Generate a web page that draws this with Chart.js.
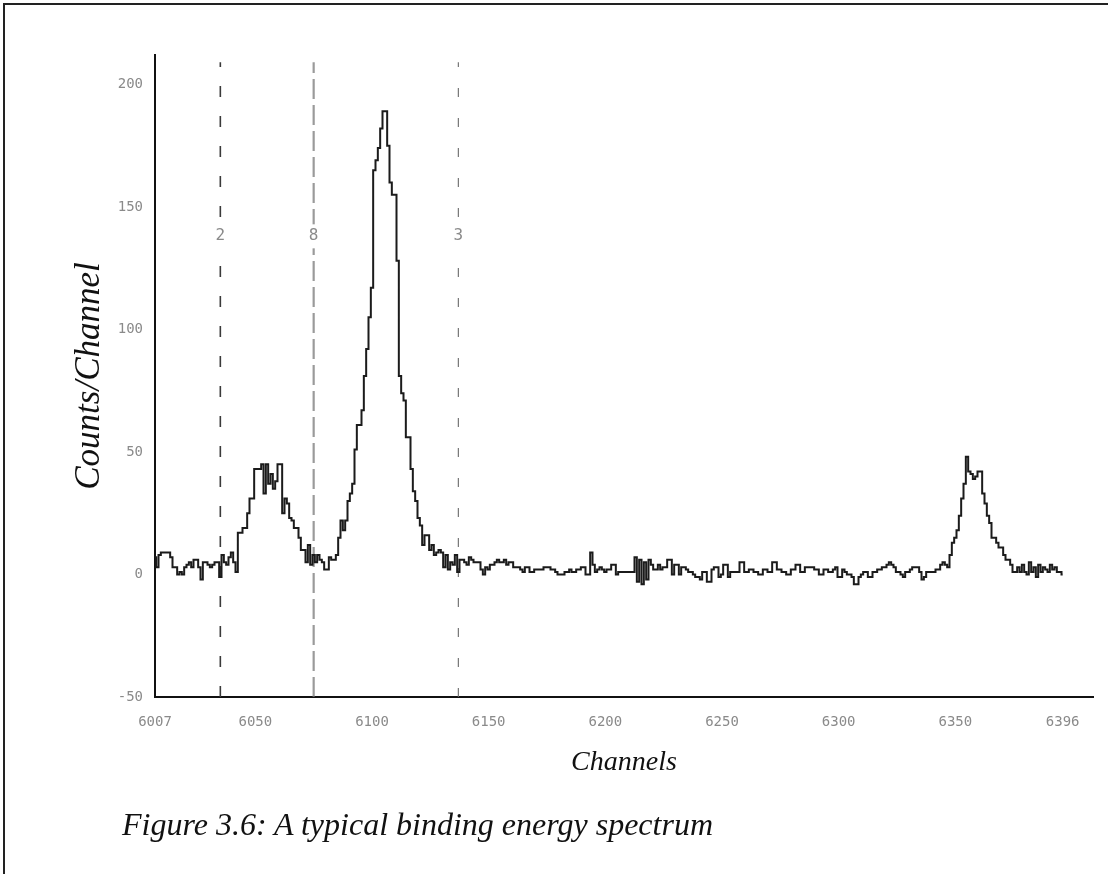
<!DOCTYPE html>
<html><head><meta charset="utf-8">
<script src="https://cdn.jsdelivr.net/npm/chart.js@4.4.1/dist/chart.umd.min.js"></script>
<style>
html,body{margin:0;padding:0;background:#fff;}
#wrap{position:relative;width:1108px;height:874px;overflow:hidden;background:#fff;}
#frame{position:absolute;left:3px;top:3px;width:1120px;height:900px;border-top:2px solid #222;border-left:2px solid #222;}
canvas{position:absolute;left:0;top:0;}
#caption{position:absolute;left:122px;top:804px;font-family:"Liberation Serif","DejaVu Serif",serif;font-style:italic;font-size:32px;line-height:40px;color:#111;white-space:nowrap;}
</style></head><body>
<div id="wrap"><div id="frame"></div><canvas id="c" width="1108" height="874"></canvas><div id="caption">Figure 3.6: A typical binding energy spectrum</div></div>
<script>
// ---- data ----
const firstChannel = 6007;
const counts = [
  // 6007-6042
  7,3,8,9,9,9,9,7,3,3,0,1,0,3,4,5,3,6,6,3,-2,5,5,4,3,4,5,5,-1,8,5,4,7,9,5,1,
  // 6043-6077
  17,17,19,19,25,31,31,43,43,43,45,33,45,37,41,35,38,45,45,25,31,29,23,22,19,19,15,10,10,5,12,4,8,5,8,
  // 6078-6104
  6,5,2,2,7,6,6,8,15,22,18,22,30,33,37,51,61,61,67,81,92,105,117,165,169,174,182,
  // 6105-6137
  189,189,175,160,155,155,128,81,74,71,56,56,43,34,30,23,20,12,16,16,10,12,8,9,10,9,3,8,2,5,4,8,1,
  // 6138-6333
  6,6,5,4,7,6,5,5,5,2,0,3,2,4,4,5,6,5,5,6,4,5,5,3,3,3,2,1,3,3,1,1,2,2,2,2,3,3,3,2,2,1,0,0,0,1,1,2,1,1,2,2,3,3,0,0,
  9,4,1,2,3,2,1,2,2,4,4,0,1,1,1,1,1,1,1,7,-3,6,-4,5,-2,6,4,2,2,4,2,3,3,6,6,0,4,4,0,3,3,2,1,1,0,-1,-1,-2,1,1,-3,-3,
  2,3,3,-1,0,4,4,-1,1,1,1,1,5,5,1,1,2,2,1,1,0,0,2,2,1,1,5,5,2,2,1,1,0,0,2,2,4,4,1,1,3,3,3,3,2,2,0,0,2,2,1,1,2,3,
  -1,-1,2,1,0,0,-1,-4,-4,-1,0,1,1,-1,-1,1,1,2,2,3,3,4,5,4,3,1,1,0,-1,1,1,2,3,3,
  // 6334-6347
  3,1,-2,-1,1,1,1,1,2,2,4,5,4,3,
  // 6348-6396
  8,13,15,18,24,31,37,48,42,41,39,40,42,42,33,29,24,21,15,15,13,11,11,8,6,6,4,1,1,3,1,4,1,0,5,1,3,-1,4,1,3,2,1,4,2,3,1,1,0
];
const xTickValues = [6007, 6050, 6100, 6150, 6200, 6250, 6300, 6350, 6396];
const xTickLabels = ['6007', '6050', '6100', '6150', '6200', '6250', '6300', '6350', '6396'];
const yTickValues = [-50, 0, 50, 100, 150, 200];
const markerChannels = [6035, 6075, 6137];
const markerLabels = ['2', '8', '3'];
const xMin = 6007, xMax = 6409, yMin = -50, yMax = 212;
const markerTop = 209, markerLabelValue = 138;

// ---- styles ----
const markerStyles = [
  {color: '#3a3a3a', width: 1.6, dash: [11, 19]},
  {color: 'rgba(120,120,120,0.75)', width: 2.2, dash: [20, 6]},
  {color: '#6a6a6a', width: 1.1, dash: [9, 21]}
];
const tickColor = '#8a8a8a';
const tickFont = {family: '"DejaVu Sans Mono", monospace', size: 14};

const datasets = [{
  label: 'Counts',
  data: counts.map((v, i) => ({x: firstChannel + i, y: v})),
  stepped: 'middle',
  borderColor: '#1b1b1b',
  borderWidth: 2,
  pointRadius: 0,
  fill: false
}];
markerChannels.forEach((ch, i) => {
  datasets.push({
    label: 'marker ' + markerLabels[i],
    data: [{x: ch, y: yMin}, {x: ch, y: markerTop}],
    borderColor: markerStyles[i].color,
    borderWidth: markerStyles[i].width,
    borderDash: markerStyles[i].dash,
    borderCapStyle: 'butt',
    pointRadius: 0,
    fill: false
  });
});

const markerLabelPlugin = {
  id: 'markerLabels',
  afterDatasetsDraw(chart) {
    const {ctx, scales: {x, y}} = chart;
    ctx.save();
    ctx.font = '16px "DejaVu Sans Mono", monospace';
    ctx.textAlign = 'center';
    ctx.textBaseline = 'middle';
    markerChannels.forEach((ch, i) => {
      const px = x.getPixelForValue(ch);
      const py = y.getPixelForValue(markerLabelValue);
      ctx.fillStyle = '#fff';
      ctx.fillRect(px - 8, py - 12, 16, 24);
      ctx.fillStyle = '#8a8a8a';
      ctx.fillText(markerLabels[i], px, py);
    });
    ctx.restore();
  }
};

new Chart(document.getElementById('c'), {
  type: 'line',
  data: {datasets},
  options: {
    responsive: false,
    animation: false,
    devicePixelRatio: 1,
    layout: {padding: {left: 69, top: 55, right: 15, bottom: 77}},
    plugins: {legend: {display: false}, tooltip: {enabled: false}},
    scales: {
      x: {
        type: 'linear',
        min: xMin, max: xMax,
        afterFit(s) { s.height = 100; },
        afterBuildTicks(s) { s.ticks = xTickValues.map(v => ({value: v})); },
        grid: {display: false, drawTicks: false},
        border: {display: true, color: '#111', width: 2},
        ticks: {
          autoSkip: false, maxRotation: 0, padding: 17,
          color: tickColor, font: tickFont,
          callback(v) { const k = xTickValues.indexOf(v); return k >= 0 ? xTickLabels[k] : ''; }
        },
        title: {
          display: true, text: 'Channels', color: '#111',
          font: {family: '"Liberation Serif", "DejaVu Serif", serif', style: 'italic', size: 28},
          padding: {top: 0, bottom: 18}
        }
      },
      y: {
        type: 'linear',
        min: yMin, max: yMax,
        afterFit(s) { s.width = 86; },
        afterBuildTicks(s) { s.ticks = yTickValues.map(v => ({value: v})); },
        grid: {display: false, drawTicks: false},
        border: {display: true, color: '#111', width: 2},
        ticks: {padding: 12, color: tickColor, font: tickFont},
        title: {
          display: true, text: 'Counts/Channel', color: '#111',
          font: {family: '"Liberation Serif", "DejaVu Serif", serif', style: 'italic', size: 35},
          padding: {top: 0, bottom: 0}
        }
      }
    }
  },
  plugins: [markerLabelPlugin]
});
</script>
</body></html>
